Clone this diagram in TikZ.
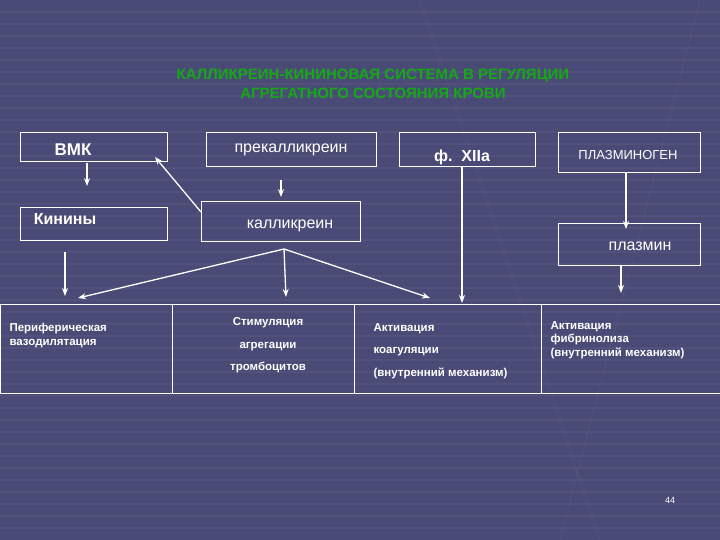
\documentclass[tikz,border=0pt]{standalone}
\usepackage{fontspec}
\setmainfont{Liberation Sans}
\usetikzlibrary{arrows.meta}
\begin{document}
\begin{tikzpicture}[x=1pt,y=-1pt,
  bx/.style={draw=white,line width=1pt,rectangle},
  lb/.style={text=white,font=\fontsize{16}{18}\selectfont},
  sm/.style={text=white,font=\bfseries\fontsize{11.5}{13.5}\selectfont,align=left,anchor=north west},
  ar/.style={draw=white,line width=1.3pt,-{Stealth[length=8pt,width=6pt]}}]
\definecolor{bg}{RGB}{74,74,118}
\definecolor{ttl}{RGB}{20,170,20}
\fill[bg] (0,0) rectangle (720,540);
\useasboundingbox (0,0) rectangle (720,540);
\foreach \y in {12,24,...,530} \draw[white,opacity=0.04,line width=1.5pt] (0,\y) -- (720,\y);
\draw[white,opacity=0.04,line width=1pt] (420,0) -- (600,540);
\draw[white,opacity=0.04,line width=1pt] (700,0) -- (560,540);
\node[text=ttl,font=\bfseries\fontsize{15}{19}\selectfont,align=center] (title) at (373,84)
 {КАЛЛИКРЕИН-КИНИНОВАЯ СИСТЕМА В РЕГУЛЯЦИИ\\АГРЕГАТНОГО СОСТОЯНИЯ КРОВИ};
% boxes
\draw[bx] (20,133) rectangle (167,162); \node[lb,font=\bfseries\fontsize{17}{19}\selectfont] (vmk) at (73,150) {ВМК};
\draw[bx] (206,133) rectangle (376,167); \node[lb] (pk) at (291,150) {прекалликреин};
\draw[bx] (399,133) rectangle (535,167); \node[lb,font=\bfseries\fontsize{16}{18}\selectfont] (f12) at (462,157) {ф.\ \ XIIa};
\draw[bx] (558,133) rectangle (700,173); \node[lb,font=\fontsize{13}{15}\selectfont] (pg) at (628,155) {ПЛАЗМИНОГЕН};
\draw[bx] (20,208) rectangle (167,240); \node[lb,font=\bfseries\fontsize{16}{18}\selectfont] (kin) at (65,219) {Кинины};
\draw[bx] (201,202) rectangle (360,241); \node[lb] (kal) at (290,226) {калликреин};
\draw[bx] (558,224) rectangle (700,265); \node[lb] (pl) at (640,246) {плазмин};
% table
\draw[bx] (0,304) rectangle (720,393);
\draw[bx] (172,304) -- (172,393) (354,304) -- (354,393) (541,304) -- (541,393);
\node[sm] (t1) at (6,320) {Периферическая\\вазодилятация};
\node[sm,align=center,anchor=north] (t2) at (268,314) {Стимуляция\\[9pt]агрегации\\[9pt]тромбоцитов};
\node[sm] (t3) at (370,320) {Активация\\[9pt]коагуляции\\[9pt](внутренний механизм)};
\node[sm] (t4) at (547,318) {Активация\\фибринолиза\\(внутренний механизм)};
% arrows
\coordinate (a1) at (87,163); \coordinate (a2) at (87,186);
\draw[ar] (a1) -- (a2);
\coordinate (b1) at (201,212); \coordinate (b2) at (155,157);
\draw[ar] (b1) -- (b2);
\coordinate (c1) at (281,180); \coordinate (c2) at (281,197);
\draw[ar] (c1) -- (c2);
\coordinate (d1) at (65,252); \coordinate (d2) at (65,296);
\draw[ar] (d1) -- (d2);
\coordinate (k0) at (284,249);
\coordinate (e1) at (78,298); \coordinate (e2) at (286,297); \coordinate (e3) at (430,298);
\draw[ar] (k0) -- (e1); \draw[ar] (k0) -- (e2); \draw[ar] (k0) -- (e3);
\coordinate (f1) at (462,167); \coordinate (f2) at (462,303);
\draw[ar] (f1) -- (f2);
\coordinate (g1) at (626,173); \coordinate (g2) at (626,229);
\draw[ar] (g1) -- (g2);
\coordinate (h1) at (621,265); \coordinate (h2) at (621,293);
\draw[ar] (h1) -- (h2);
\node[text=white,font=\fontsize{9}{10}\selectfont] (pn) at (670,500) {44};
\end{tikzpicture}
\end{document}
